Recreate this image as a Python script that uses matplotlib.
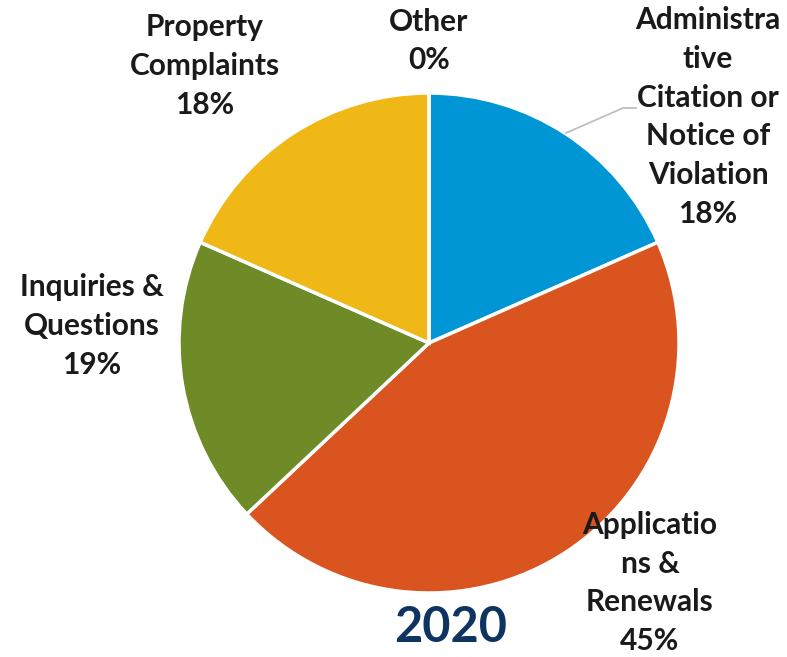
import matplotlib
matplotlib.use("Agg")
import matplotlib.pyplot as plt

# slice data, clockwise from 12 o'clock
categories = ["Administrative Citation or Notice of Violation",
              "Applications & Renewals",
              "Inquiries & Questions",
              "Property Complaints",
              "Other"]
shares = [18.4, 44.6, 18.6, 18.4, 0.0]
pct_labels = ["18%", "45%", "19%", "18%", "0%"]
# wrapped label text as drawn in the chart
label_text = ["Administra\ntive\nCitation or\nNotice of\nViolation",
              "Applicatio\nns &\nRenewals",
              "Inquiries &\nQuestions",
              "Property\nComplaints",
              "Other"]
colors = ["#0096D6", "#D9541E", "#6E8B27", "#F0B816", "#A5A5A5"]
year = "2020"

W, H = 787, 657
fig = plt.figure(figsize=(W / 100, H / 100), dpi=100)
ax = fig.add_axes([0, 0, 1, 1])

cx, cy, r = 429, H - 343, 250
ax.pie(shares, colors=colors, startangle=90, counterclock=False,
       center=(cx, cy), radius=r,
       wedgeprops=dict(edgecolor="white", linewidth=2.5))
ax.set_xlim(0, W)
ax.set_ylim(0, H)
ax.set_aspect("equal")
ax.axis("off")

font = dict(family=["Lato", "DejaVu Sans"], fontweight="bold",
            color="#1A1A1A", fontsize=21.5, ha="center", va="center",
            linespacing=1.47)

# label centres in pixel coordinates (x, y from top)
label_pos = [(708, 117), (650, 583), (92, 326), (205, 66), (429, 41)]
for txt, pct, (lx, ly) in zip(label_text, pct_labels, label_pos):
    ax.text(lx, H - ly, f"{txt}\n{pct}", **font)

# leader line for the blue slice label
ax.plot([566, 623, 636], [H - 133, H - 108, H - 108], color="#BFBFBF", lw=1.3)

ax.text(451, H - 627, year, family=["Lato", "DejaVu Sans"], fontweight="bold",
        color="#0E3462", fontsize=35, ha="center", va="center")

fig.savefig("out.png", dpi=100)
